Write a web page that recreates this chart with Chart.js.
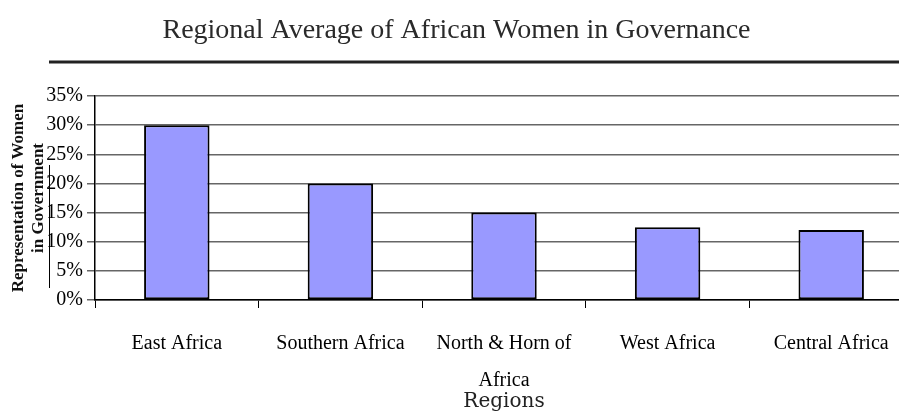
<!DOCTYPE html>
<html>
<head>
<meta charset="utf-8">
<title>Regional Average of African Women in Governance</title>
<script src="https://cdn.jsdelivr.net/npm/chart.js@4"></script>
<style>
  body { margin: 0; overflow: hidden; background: #fff; }
  #wrap { position: absolute; left: 0; top: 0; width: 932px; height: 415px; }
</style>
</head>
<body>
<div id="wrap"><canvas id="regionsChart"></canvas></div>
<script>
const regions = ['East Africa', 'Southern Africa', ['North & Horn of', 'Africa'], 'West Africa', 'Central Africa']
const womenShare = [30, 20, 15, 12.5, 12]
const yMax = 35
const yStep = 5

// title rule and the stray vertical line left of the axis
const decorations = {
  id: 'decorations',
  afterDraw (chart) {
    const ctx = chart.ctx
    ctx.save()
    ctx.strokeStyle = '#222'
    ctx.lineWidth = 3
    ctx.beginPath()
    ctx.moveTo(49, 62)
    ctx.lineTo(chart.width, 62)
    ctx.stroke()
    ctx.lineWidth = 1
    ctx.strokeStyle = '#000'
    ctx.beginPath()
    ctx.moveTo(49.5, 165)
    ctx.lineTo(49.5, 288)
    ctx.stroke()
    ctx.restore()
  }
}

new Chart(document.getElementById('regionsChart'), {
  type: 'bar',
  data: {
    labels: regions,
    datasets: [{
      label: 'Representation of Women in Government',
      data: womenShare,
      backgroundColor: '#9999FF',
      borderColor: '#000',
      borderWidth: 2,
      borderSkipped: false,
      categoryPercentage: 1,
      barPercentage: 0.4
    }]
  },
  options: {
    responsive: true,
    maintainAspectRatio: false,
    animation: false,
    layout: { padding: { left: 0, right: 19, top: 0, bottom: 0 } },
    plugins: {
      legend: { display: false },
      tooltip: { enabled: false },
      title: {
        display: true,
        text: 'Regional Average of African Women in Governance',
        color: '#2a2a2a',
        font: { family: 'Liberation Serif', size: 28, weight: 'normal', lineHeight: 1.2 },
        padding: { top: 14, bottom: 48.4 }
      }
    },
    scales: {
      x: {
        offset: true,
        afterFit (scale) { scale.height = 115 },
        grid: { offset: true, drawOnChartArea: false, drawTicks: true, tickLength: 8, color: '#000', lineWidth: 1 },
        border: { color: '#000', width: 1.5 },
        ticks: {
          color: '#000',
          padding: 17,
          maxRotation: 0,
          autoSkip: false,
          font: { family: 'Liberation Serif', size: 20, lineHeight: 1.85 }
        },
        title: {
          display: true,
          text: 'Regions',
          color: '#222',
          font: { family: 'DejaVu Serif', size: 20, lineHeight: 1.2 },
          padding: { top: 0, bottom: 1 }
        }
      },
      y: {
        min: 0,
        max: yMax,
        afterFit (scale) { scale.width = 95 },
        grid: { color: '#666', lineWidth: 1.5, tickLength: 8 },
        border: { color: '#000', width: 1.5 },
        ticks: {
          stepSize: yStep,
          autoSkip: false,
          padding: 4,
          color: '#000',
          font: { family: 'Liberation Serif', size: 20 },
          callback: (value) => value + '%'
        },
        title: {
          display: true,
          text: ['Representation of Women', 'in Government'],
          color: '#111',
          font: { family: 'Liberation Serif', size: 17, weight: 'bold', lineHeight: 1.18 },
          padding: { top: 9, bottom: 0 }
        }
      }
    }
  },
  plugins: [decorations]
})
</script>
</body>
</html>
